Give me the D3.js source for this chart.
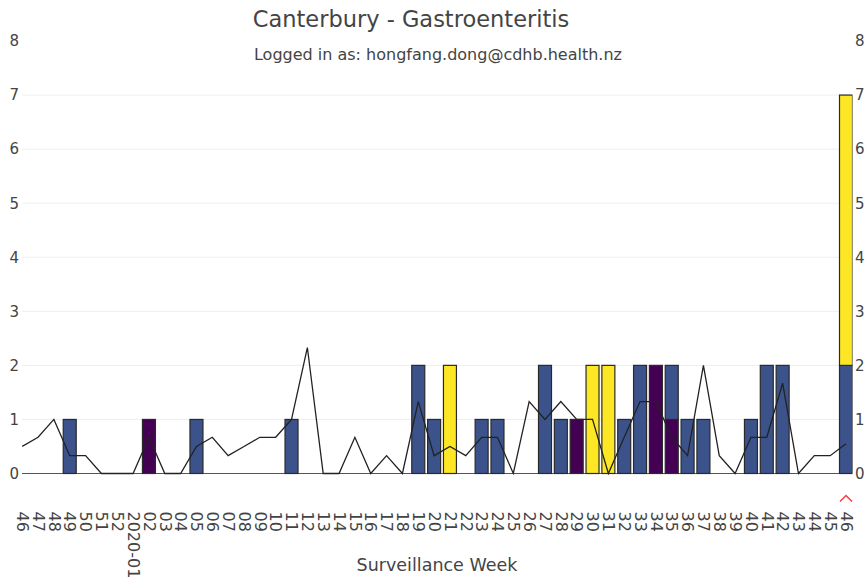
<!DOCTYPE html>
<html>
<head>
<meta charset="utf-8">
<script src="https://cdn.jsdelivr.net/npm/d3@7"></script>
<style>
  body { margin: 0; background: #fff; }
  text { font-family: "DejaVu Sans", Verdana, sans-serif; fill: #444; }
</style>
</head>
<body>
<div id="chart"></div>
<script>
const fig_width = 866
const fig_height = 580

// Surveillance weeks, 2019-46 through 2020-46
const week_labels = ["46","47","48","49","50","51","52","2020-01","02","03","04","05","06","07","08","09","10",
    "11","12","13","14","15","16","17","18","19","20","21","22","23","24","25","26","27","28","29","30",
    "31","32","33","34","35","36","37","38","39","40","41","42","43","44","45","46"]

// Weekly counts, one array per bar colour (stacked bottom to top)
const purple_counts = [0,0,0,0,0,0,0,0,1,0,0,0,0,0,0,0,0,0,0,0,0,0,0,0,0,0,0,0,0,0,0,0,0,0,0,1,0,0,0,0,2,1,0,0,0,0,0,0,0,0,0,0,0]
const blue_counts   = [0,0,0,1,0,0,0,0,0,0,0,1,0,0,0,0,0,1,0,0,0,0,0,0,0,2,1,0,0,1,1,0,0,2,1,0,0,0,1,2,0,1,1,1,0,0,1,2,2,0,0,0,2]
const yellow_counts = [0,0,0,0,0,0,0,0,0,0,0,0,0,0,0,0,0,0,0,0,0,0,0,0,0,0,0,2,0,0,0,0,0,0,0,0,2,2,0,0,0,0,0,0,0,0,0,0,0,0,0,0,5]

// Historical average line
const avg_values = [0.5,0.67,1,0.33,0.33,0,0,0,0.67,0,0,0.5,0.67,0.33,0.5,0.67,0.67,1,2.33,0,0,0.67,0,0.33,0,
    1.33,0.33,0.5,0.33,0.67,0.67,0,1.33,1,1.33,1,1,0,0.67,1.33,1.33,0.67,0.33,2,0.33,0,0.67,0.67,1.67,0,0.33,0.33,0.55]

const y_ticks = [0,1,2,3,4,5,6,7,8]
const current_week_index = week_labels.length - 1

const series_keys = ["purple", "blue", "yellow"]
const series_colours = {purple: "#440154", blue: "#3b528b", yellow: "#fde725"}

const plot = {left: 22, right: 852, top: 41, bottom: 473.5}

let table = week_labels.map((w, i) => ({
    idx: i,
    purple: purple_counts[i],
    blue: blue_counts[i],
    yellow: yellow_counts[i]
}))

let xScale = d3.scalePoint()
    .domain(d3.range(week_labels.length))
    .range([22.2, 846])

let yScale = d3.scaleLinear()
    .domain([0, 8])
    .range([plot.bottom, plot.top])

let bar_width = xScale.step() * 0.82

let fig = d3.select("#chart")
    .append("svg")
    .attr("width", fig_width)
    .attr("height", fig_height)

fig.append("defs").append("clipPath")
    .attr("id", "plot-clip")
    .append("rect")
    .attr("x", plot.left)
    .attr("y", plot.top - 2)
    .attr("width", plot.right - plot.left + 0.5)
    .attr("height", plot.bottom - plot.top + 4)

// gridlines
fig.append("g")
    .selectAll("line")
    .data(y_ticks.filter(t => t > 0 && t < 8))
    .join("line")
    .attr("x1", plot.left)
    .attr("x2", plot.right)
    .attr("y1", d => yScale(d))
    .attr("y2", d => yScale(d))
    .style("stroke", "#eee")
    .style("stroke-width", 1)

// y tick labels, both sides
let yLeft = d3.axisLeft(yScale).tickValues(y_ticks).tickSize(0).tickPadding(3)
let yRight = d3.axisRight(yScale).tickValues(y_ticks).tickSize(0).tickPadding(3)

fig.append("g")
    .attr("transform", `translate(${plot.left},0)`)
    .call(yLeft)
    .call(g => g.select(".domain").remove())
    .selectAll("text")
    .style("font-size", "15px")
    .style("font-family", "DejaVu Sans")
    .attr("fill", "#444")

fig.append("g")
    .attr("transform", `translate(${plot.right},0)`)
    .call(yRight)
    .call(g => g.select(".domain").remove())
    .selectAll("text")
    .style("font-size", "15px")
    .style("font-family", "DejaVu Sans")
    .attr("fill", "#444")

// zero line
fig.append("line")
    .attr("x1", plot.left)
    .attr("x2", plot.right)
    .attr("y1", yScale(0))
    .attr("y2", yScale(0))
    .style("stroke", "#555")
    .style("stroke-width", 1.2)

let stacked = d3.stack().keys(series_keys)(table)

let plot_g = fig.append("g").attr("clip-path", "url(#plot-clip)")

plot_g.selectAll("g.series")
    .data(stacked)
    .join("g")
    .attr("class", "series")
    .attr("fill", d => series_colours[d.key])
    .selectAll("rect")
    .data(d => d.filter(s => s[1] > s[0]))
    .join("rect")
    .attr("x", d => xScale(d.data.idx) - bar_width / 2)
    .attr("width", bar_width)
    .attr("y", d => yScale(d[1]))
    .attr("height", d => yScale(d[0]) - yScale(d[1]))
    .style("stroke", "#2a2a2a")
    .style("stroke-width", 1.2)

let avg_line = d3.line()
    .x((d, i) => xScale(i))
    .y(d => yScale(d))

plot_g.append("path")
    .datum(avg_values)
    .attr("d", avg_line)
    .style("fill", "none")
    .style("stroke", "#222")
    .style("stroke-width", 1.3)

// x tick labels, rotated to read downwards
let xAxis = d3.axisBottom(xScale)
    .tickSize(0)
    .tickFormat(i => week_labels[i])

fig.append("g")
    .attr("transform", `translate(0,${plot.bottom})`)
    .call(xAxis)
    .call(g => g.select(".domain").remove())
    .selectAll("text")
    .attr("x", 0)
    .attr("y", 0)
    .attr("dy", "0.36em")
    .attr("transform", "translate(0,38) rotate(90)")
    .attr("text-anchor", "start")
    .style("font-size", "16px")
    .style("font-family", "DejaVu Sans")
    .attr("fill", "#444")

// current week marker
let cx = xScale(current_week_index)
fig.append("path")
    .attr("d", `M${cx - 6},501.5 L${cx},495.5 L${cx + 6},501.5`)
    .style("fill", "none")
    .style("stroke", "#ff3b3b")
    .style("stroke-width", 1.5)

// titles
fig.append("text")
    .attr("x", 411)
    .attr("y", 26.5)
    .attr("text-anchor", "middle")
    .style("font-size", "22.5px")
    .text("Canterbury - Gastroenteritis")

fig.append("text")
    .attr("x", 438)
    .attr("y", 60)
    .attr("text-anchor", "middle")
    .style("font-size", "16px")
    .text("Logged in as: hongfang.dong@cdhb.health.nz")

fig.append("text")
    .attr("x", 437)
    .attr("y", 571)
    .attr("text-anchor", "middle")
    .style("font-size", "17.5px")
    .text("Surveillance Week")
</script>
</body>
</html>
